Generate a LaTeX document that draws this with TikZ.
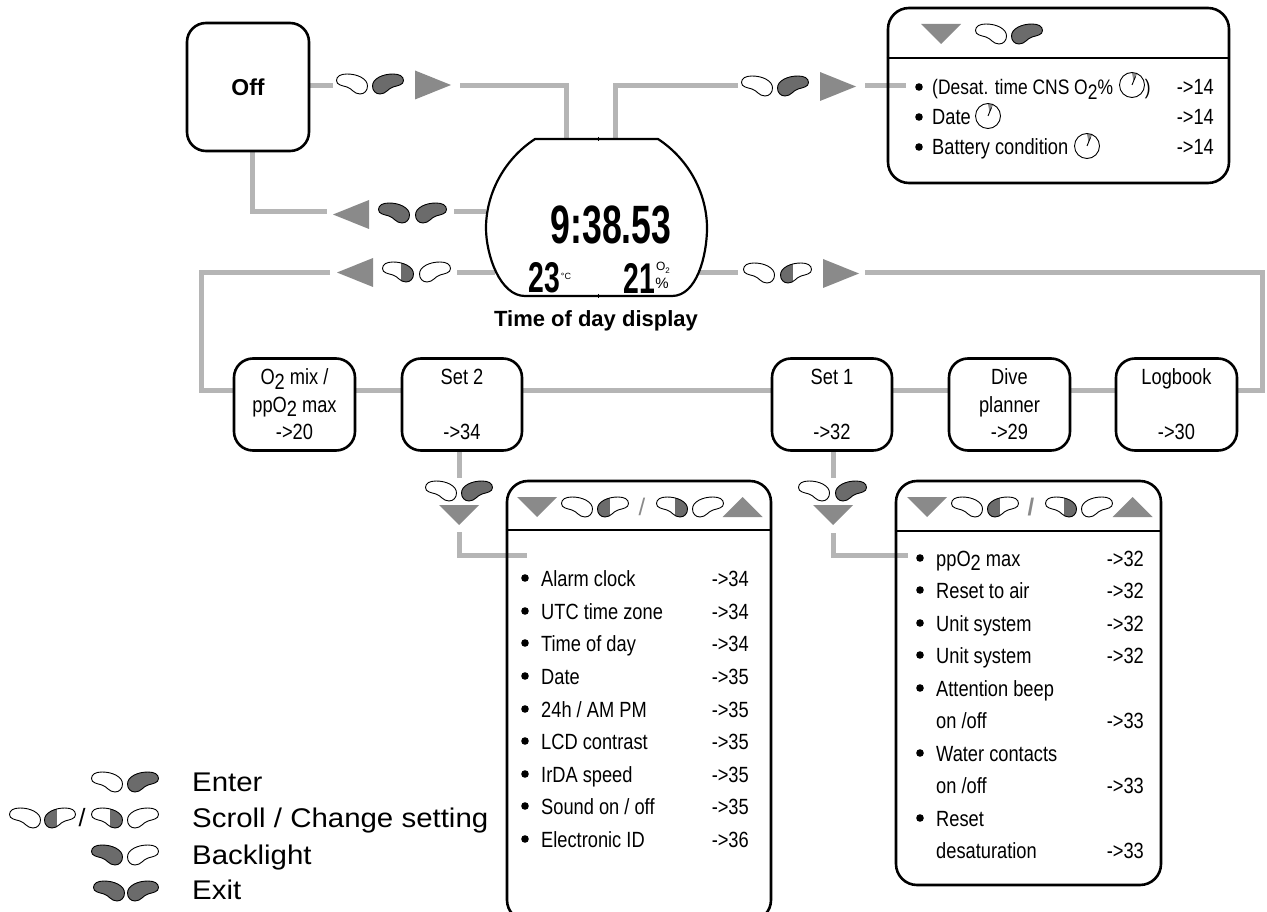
\documentclass[tikz,border=0pt]{standalone}
\usepackage{fontspec}
\usepackage{xcolor}
\usetikzlibrary{positioning,calc,backgrounds}
\setmainfont{Liberation Sans}
\newfontfamily\listfont[FakeStretch=0.83]{Liberation Sans}
\newfontfamily\keyfont[FakeStretch=1.09]{Liberation Sans}
\newfontfamily\lcdfont[FakeStretch=0.66]{Liberation Sans}
\definecolor{linegray}{HTML}{B5B5B5}
\definecolor{trigray}{HTML}{8A8A8A}
\definecolor{btngray}{HTML}{6B6B6B}
\newcommand{\otwo}{O\raisebox{-.2em}{2}}
\newcommand{\btnshape}{(-15.5,2) .. controls (-15.5,-5) and (-6,-10) .. (5,-10) .. controls (11,-10) and (15.5,-8) .. (15.5,-3.5) .. controls (15.5,1) and (10,1.5) .. (5,3) .. controls (0,4.5) and (-2,10) .. (-8,10) .. controls (-12.5,10) and (-15.5,6.5) .. (-15.5,2) -- cycle}
\tikzset{
  conn/.style={draw=linegray, line width=5pt},
  menubox/.style={draw, line width=2.6pt, rounded corners=19pt, align=center, font=\listfont\fontsize{22}{27.5}\selectfont},
  panel/.style={draw, line width=2.6pt, rounded corners=21pt},
  rule/.style={line width=1.2pt},
  item/.style={anchor=base west, inner sep=0pt, font=\listfont\fontsize{22}{25}\selectfont},
  page/.style={anchor=base east, inner sep=0pt, font=\listfont\fontsize{22}{25}\selectfont},
  key/.style={anchor=base west, inner sep=0pt, font=\keyfont\fontsize{27}{30}\selectfont},
  lcd/.style={inner sep=0pt, font=\lcdfont\bfseries\fontsize{#1}{#1}\selectfont},
  % buttons, the right one and its mirror image
  pics/right/.style={code={\draw[line width=0.9pt, fill=#1] \btnshape;}},
  pics/left/.style={code={\draw[xscale=-1, line width=0.9pt, fill=#1] \btnshape;}},
  pics/halfright/.style={code={
    \begin{scope}\clip \btnshape; \fill[btngray] (-16,-11) rectangle (-3,11);\end{scope}
    \draw[line width=0.9pt] \btnshape;}},
  pics/halfleft/.style={code={
    \begin{scope}[xscale=-1]\clip \btnshape; \fill[btngray] (-16,-11) rectangle (-3,11);\end{scope}
    \draw[xscale=-1, line width=0.9pt] \btnshape;}},
  % direction triangles
  pics/tridown/.style={code={\fill[trigray] (-20,-10) -- (20,-10) -- (0,10) -- cycle;}},
  pics/triup/.style={code={\fill[trigray] (-20,10) -- (20,10) -- (0,-10) -- cycle;}},
  pics/triright/.style={code={\fill[trigray] (-18,-14.5) -- (18,0) -- (-18,14.5) -- cycle;}},
  pics/trileft/.style={code={\fill[trigray] (18,-14.5) -- (-18,0) -- (18,14.5) -- cycle;}},
  % time-out dial
  pics/dial/.style={code={
    \fill[trigray] (0,-12) -- (5,-11) -- (1.5,-4) -- cycle;
    \draw[line width=0.9pt] (0,0) circle (12.5);
    \draw[line width=0.9pt] (0,0) -- (3.5,-8.5);}},
}

\begin{document}
\begin{tikzpicture}[x=1pt, y=-1pt]
  \useasboundingbox (0,0) rectangle (1267,912);

  % Boxes
  \node[menubox, minimum width=122pt, minimum height=128pt, font=\bfseries\fontsize{23}{27}\selectfont] (off) at (248,87) {Off};
  \node[menubox, minimum width=121pt, minimum height=92pt] (o2mix) at (294.5,404.5) {\otwo{} mix /\\pp\otwo{} max\\->20};
  \node[menubox, minimum width=120pt, minimum height=92pt] (set2) at (462,404.5) {Set 2\\[27.5pt]->34};
  \node[menubox, minimum width=120pt, minimum height=92pt] (set1) at (832,404.5) {Set 1\\[27.5pt]->32};
  \node[menubox, minimum width=121pt, minimum height=92pt] (planner) at (1009.5,404.5) {Dive\\planner\\->29};
  \node[menubox, minimum width=121pt, minimum height=92pt] (logbook) at (1176.5,404.5) {Logbook\\[27.5pt]->30};

  % Panels
  \node[panel, minimum width=341pt, minimum height=175pt] (infopanel) at (1058.5,95.5) {};
  \node[panel, minimum width=264pt, minimum height=440pt] (set2panel) at (639,701) {};
  \node[panel, minimum width=265pt, minimum height=404pt] (set1panel) at (1028.5,683) {};
  \draw[rule] (infopanel.west |- 0,58) -- (infopanel.east |- 0,58);
  \draw[rule] (set2panel.west |- 0,530) -- (set2panel.east |- 0,530);
  \draw[rule] (set1panel.west |- 0,531) -- (set1panel.east |- 0,531);

  % Display
  \draw[line width=2.2pt] (535,139) -- (658,139) .. controls (690,160) and (707,195) .. (707,228)
    .. controls (707,255) and (697,296) .. (672,296) -- (525,296)
    .. controls (500,296) and (486,255) .. (486,228) .. controls (486,195) and (503,160) .. (535,139) -- cycle;
  \draw[line width=1pt] (598,137) -- (598,141) (598,294) -- (598,298);
  \node[lcd=54] (clock) at (611,225) {9:38.53};
  \node[lcd=43] (temp) at (544,278) {23};
  \node[lcd=43] (oxygen) at (639,278) {21};
  \node[inner sep=0pt, font=\fontsize{9}{9}\selectfont] (degc) at (566,276) {°C};
  \node[inner sep=0pt, font=\fontsize{12}{12}\selectfont] (otext) at (663,268) {O\raisebox{-.2em}{\fontsize{8}{8}\selectfont 2}};
  \node[inner sep=0pt, font=\fontsize{15}{15}\selectfont] (pct) at (662,283) {\%};
  \node[font=\bfseries\fontsize{22}{26}\selectfont] (caption) at (596,321) {Time of day display};

  % Free ends of the connectors
  \coordinate (rowline) at (0,390);
  \coordinate (a1) at (333,86);
  \coordinate (a2) at (460,86);
  \coordinate (a3) at (566,139);
  \coordinate (b1) at (615,139);
  \coordinate (b2) at (738,86);
  \coordinate (b3) at (865,86);
  \coordinate (b4) at (906,86);
  \coordinate (c1) at (486,212);
  \coordinate (c2) at (454,212);
  \coordinate (c3) at (327,212);
  \coordinate (c4) at (252,212);
  \coordinate (d1) at (495,273);
  \coordinate (d2) at (457,273);
  \coordinate (d3) at (330,273);
  \coordinate (d4) at (201,273);
  \coordinate (e1) at (698,273);
  \coordinate (e2) at (738,273);
  \coordinate (e3) at (865,273);
  \coordinate (e4) at (1262,273);
  \coordinate (f1) at (459,478);
  \coordinate (f2) at (459,532);
  \coordinate (f3) at (527,555);
  \coordinate (g1) at (833,478);
  \coordinate (g2) at (833,533);
  \coordinate (g3) at (908,555);

  % Connectors
  \begin{scope}[on background layer]
    \draw[conn] (off.east |- a1) -- (a1);
    \draw[conn] (a2) -| (a3);
    \draw[conn] (b1) |- (b2);
    \draw[conn] (b3) -- (b4);
    \draw[conn] (c4 |- off.south) |- (c3);
    \draw[conn] (c1) -- (c2);
    \draw[conn] (d1) -- (d2);
    \draw[conn] (d3) -- (d4) |- (o2mix.west |- rowline);
    \draw[conn] (e1) -- (e2);
    \draw[conn] (e3) -- (e4) |- (logbook.east |- rowline);
    \draw[conn] (o2mix.east |- rowline) -- (set2.west |- rowline);
    \draw[conn] (set2.east |- rowline) -- (set1.west |- rowline);
    \draw[conn] (set1.east |- rowline) -- (planner.west |- rowline);
    \draw[conn] (planner.east |- rowline) -- (logbook.west |- rowline);
    \draw[conn] (set2.south -| f1) -- (f1);
    \draw[conn] (f2) |- (f3);
    \draw[conn] (set1.south -| g1) -- (g1);
    \draw[conn] (g2) |- (g3);
  \end{scope}

  % Buttons along the connectors
  \pic at (352,84) {left=white};
  \pic at (388,84) {right=btngray};
  \pic at (433,85) {triright};
  \pic at (757,86) {left=white};
  \pic at (793,86) {right=btngray};
  \pic at (838,86.5) {triright};
  \pic at (394,213) {left=btngray};
  \pic at (431,213) {right=btngray};
  \pic at (351,214.5) {trileft};
  \pic at (398,272) {halfleft};
  \pic at (435,272) {right=white};
  \pic at (355,272.5) {trileft};
  \pic at (759,273) {left=white};
  \pic at (796,273) {halfright};
  \pic at (841,273.5) {triright};
  \pic at (441,491) {left=white};
  \pic at (477,491) {right=btngray};
  \pic at (459,515) {tridown};
  \pic at (814,491) {left=white};
  \pic at (851,491) {right=btngray};
  \pic at (833,515) {tridown};

  % Panel headers
  \pic at (941,34) {tridown};
  \pic at (991,34) {left=white};
  \pic at (1027,34) {right=btngray};
  \pic at (537,507) {tridown};
  \pic at (577,507) {left=white};
  \pic at (613,507) {halfright};
  \node[trigray, font=\fontsize{24}{24}\selectfont] (s2slash) at (642,507) {/};
  \pic at (672,507) {halfleft};
  \pic at (708,507) {right=white};
  \pic at (742.5,507) {triup};
  \pic at (927,507) {tridown};
  \pic at (967,507) {left=white};
  \pic at (1003,507) {halfright};
  \node[trigray, font=\bfseries\fontsize{24}{24}\selectfont] (s1slash) at (1031,507) {/};
  \pic at (1061,507) {halfleft};
  \pic at (1097,507) {right=white};
  \pic at (1132.5,507) {triup};

  % Info list
  \foreach \y/\txt in {95/{\fontsize{21}{25}\selectfont(Desat. time CNS \otwo\% \hspace{27pt})}, 125/Date, 155/Battery condition}{
    \fill (919,\y-8) circle (3.8);
    \node[item] (info\y) at (932,\y) {\txt};
    \node[page] (infop\y) at (1214,\y) {->14};
  }
  \pic at (1132,85) {dial};
  \pic at (988,116) {dial};
  \pic at (1087,146) {dial};

  % Set 2 list
  \foreach \y/\txt/\pg in {586/Alarm clock/34, 619/UTC time zone/34, 651/Time of day/34, 684/Date/35,
      717/{24h / AM PM}/35, 749/LCD contrast/35, 782/IrDA speed/35, 814/{Sound on / off}/35, 847/Electronic ID/36}{
    \fill (525,\y-8) circle (3.8);
    \node[item] (sa\y) at (541,\y) {\txt};
    \node[page] (sb\y) at (749,\y) {->\pg};
  }

  % Set 1 list
  \foreach \y/\txt/\pg in {566/pp\otwo{} max/32, 598/Reset to air/32, 631/Unit system/32, 663/Unit system/32,
      728/{on /off}/33, 793/{on /off}/33, 858/desaturation/33}{
    \node[item] (ta\y) at (936,\y) {\txt};
    \node[page] (tb\y) at (1144,\y) {->\pg};
  }
  \foreach \y/\txt in {696/Attention beep, 761/Water contacts, 826/Reset}{
    \node[item] (ta\y) at (936,\y) {\txt};
  }
  \foreach \y in {566,598,631,663,696,761,826}{
    \fill (920,\y-8) circle (3.8);
  }

  % Legend
  \pic at (107,782) {left=white};
  \pic at (143,782) {right=btngray};
  \node[key] (enter) at (192,791) {Enter};
  \pic at (25,818) {left=white};
  \pic at (60,818) {halfright};
  \node[font=\fontsize{25}{25}\selectfont, inner sep=0pt] (keyslash) at (82,818) {/};
  \pic at (107,818) {halfleft};
  \pic at (143,818) {right=white};
  \node[key] (scroll) at (192,827) {Scroll / Change setting};
  \pic at (107,855) {left=btngray};
  \pic at (143,855) {right=white};
  \node[key] (backlight) at (192,864) {Backlight};
  \pic at (109,891) {left=btngray};
  \pic at (143,891) {right=btngray};
  \node[key] (exit) at (192,899) {Exit};
\end{tikzpicture}
\end{document}
